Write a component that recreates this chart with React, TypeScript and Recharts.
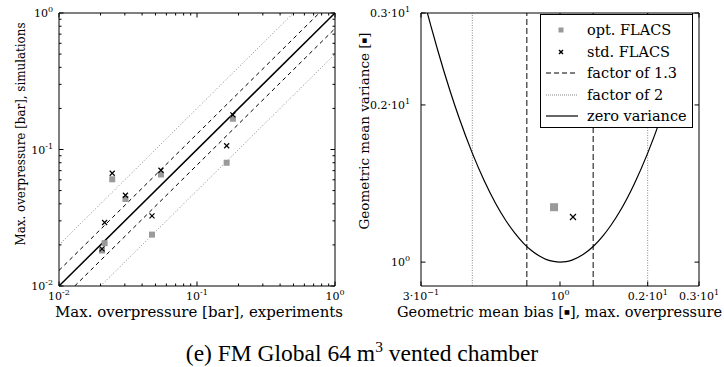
import React from "react";
import { ComposedChart, Scatter, Line, XAxis, YAxis, ReferenceLine, Legend, Label } from "recharts";

// left panel: max overpressure, experiments vs simulations [bar]
const EXPERIMENTS = [0.0243, 0.0303, 0.0548, 0.182, 0.164, 0.0472, 0.0214, 0.0205];
const OPT_FLACS = [0.0605, 0.0434, 0.0656, 0.168, 0.08, 0.0238, 0.0206, 0.0182];
const STD_FLACS = [0.067, 0.0462, 0.0705, 0.1795, 0.1065, 0.0326, 0.0292, 0.0187];

// right panel: geometric mean bias / variance
const MEAN_BIAS = [0.954, 1.108];
const MEAN_VARIANCE = [1.274, 1.22];

// zero variance parabola
const ZERO_VAR_MG = [0.35, 0.36, 0.38, 0.4, 0.42, 0.45, 0.5, 0.55, 0.6, 0.65, 0.7, 0.75, 0.8, 0.85, 0.9, 0.95, 1, 1.05, 1.1, 1.2, 1.3, 1.4, 1.5, 1.6, 1.8, 2, 2.2, 2.4, 2.6, 2.8, 2.857];
const ZERO_VAR_VG = [3.01, 2.84, 2.551, 2.315, 2.122, 1.892, 1.617, 1.43, 1.298, 1.204, 1.136, 1.086, 1.051, 1.027, 1.011, 1.003, 1, 1.002, 1.009, 1.034, 1.071, 1.12, 1.179, 1.247, 1.413, 1.617, 1.862, 2.152, 2.492, 2.887, 3.0];

const FACTOR_NARROW = 1.3;
const FACTOR_WIDE = 2;

const LEFT_TICKS = [0.01, 0.02, 0.03, 0.04, 0.05, 0.06, 0.07, 0.08, 0.09, 0.1, 0.2, 0.3, 0.4, 0.5, 0.6, 0.7, 0.8, 0.9, 1];
const LEFT_LABELS = [
  { v: 0.01, base: "10", sup: "-2" },
  { v: 0.1, base: "10", sup: "-1" },
  { v: 1, base: "10", sup: "0" },
];
const BIAS_TICKS = [1 / 3, 1, 2, 3];
const BIAS_LABELS = [
  { v: 1 / 3, base: "3\u00b710", sup: "\u22121" },
  { v: 1, base: "10", sup: "0" },
  { v: 2, base: "0.2\u00b710", sup: "1" },
  { v: 3, base: "0.3\u00b710", sup: "1" },
];
const VAR_TICKS = [1, 2, 3];
const VAR_LABELS = [
  { v: 1, base: "10", sup: "0" },
  { v: 2, base: "0.2\u00b710", sup: "1" },
  { v: 3, base: "0.3\u00b710", sup: "1" },
];

const LEGEND_ITEMS = [
  { label: "opt. FLACS", kind: "square" },
  { label: "std. FLACS", kind: "cross" },
  { label: "factor of 1.3", kind: "dashed" },
  { label: "factor of 2", kind: "dotted" },
  { label: "zero variance", kind: "solid" },
];

const FONT = "'DejaVu Serif', serif";
const GREY = "#9a9a9a";

const H = 330;
const MARGIN_L = { top: 13, right: 15, bottom: 14, left: 9 };
const MARGIN_R = { top: 13, right: 25, bottom: 14, left: 21 };
const BOX_L = { left: 59, right: 335, top: 13, bottom: 286 };
const BOX_R = { left: 71, right: 349, top: 13, bottom: 286 };

const leftOpt = EXPERIMENTS.map((x, i) => ({ x, y: OPT_FLACS[i] }));
const leftStd = EXPERIMENTS.map((x, i) => ({ x, y: STD_FLACS[i] }));
const rightOpt = [{ x: MEAN_BIAS[0], y: MEAN_VARIANCE[0] }];
const rightStd = [{ x: MEAN_BIAS[1], y: MEAN_VARIANCE[1] }];
const zeroVar = ZERO_VAR_MG.map((x, i) => ({ x, y: ZERO_VAR_VG[i] }));

const findLabel = (labels: any[], v: number) => labels.find((l) => Math.abs(l.v - v) < 1e-6);

const makeXTick = (labels: any[], box: any) => (props: any) => {
  const { x, payload } = props;
  const lab = findLabel(labels, payload.value);
  const len = lab ? 4.5 : 2.5;
  return (
    <g>
      <line x1={x} x2={x} y1={box.bottom} y2={box.bottom - len} stroke="#000" />
      <line x1={x} x2={x} y1={box.top} y2={box.top + len} stroke="#000" />
      {lab && (
        <text x={x} y={box.bottom + 14} textAnchor="middle" fontSize={11} fontFamily={FONT} fill="#000">
          <tspan>{lab.base}</tspan>
          <tspan dy={-5} fontSize={8}>{lab.sup}</tspan>
        </text>
      )}
    </g>
  );
};

const makeYTick = (labels: any[], box: any, gap: number) => (props: any) => {
  const { y, payload } = props;
  const lab = findLabel(labels, payload.value);
  const len = lab ? 4.5 : 2.5;
  return (
    <g>
      <line x1={box.left} x2={box.left + len} y1={y} y2={y} stroke="#000" />
      <line x1={box.right} x2={box.right - len} y1={y} y2={y} stroke="#000" />
      {lab && (
        <text x={box.left - gap} y={y + 4} textAnchor="end" fontSize={11} fontFamily={FONT} fill="#000">
          <tspan>{lab.base}</tspan>
          <tspan dy={-5} fontSize={8}>{lab.sup}</tspan>
        </text>
      )}
    </g>
  );
};

const Square = (size: number) => (props: any) => (
  <rect x={props.cx - size / 2} y={props.cy - size / 2} width={size} height={size} fill={GREY} />
);
const Cross = (size: number) => (props: any) => {
  const { cx, cy } = props;
  const h = size / 2;
  return (
    <g stroke="#000" strokeWidth={1.2}>
      <line x1={cx - h} y1={cy - h} x2={cx + h} y2={cy + h} />
      <line x1={cx - h} y1={cy + h} x2={cx + h} y2={cy - h} />
    </g>
  );
};

const xLabel = (text: string, tail: string, cx: number, len: number) => () => (
  <text x={cx} y={317} textAnchor="middle" fontSize={14} fontFamily={FONT} fill="#000"
    textLength={len} lengthAdjust="spacingAndGlyphs">
    {text}
    {tail && <tspan fontSize={6} dy={-3}>{"\u25a0"}</tspan>}
    {tail && <tspan dy={3}>{tail}</tspan>}
  </text>
);
const yLabel = (text: string, tail: string, bx: number, cy: number, len: number) => () => (
  <text x={bx} y={cy} transform={`rotate(-90 ${bx} ${cy})`} textAnchor="middle" fontSize={12.5}
    fontFamily={FONT} fill="#000" textLength={len} lengthAdjust="spacingAndGlyphs">
    {text}
    {tail && <tspan fontSize={5.5} dy={-3}>{"\u25a0"}</tspan>}
    {tail && <tspan dy={3}>{tail}</tspan>}
  </text>
);

function LegendBox() {
  return (
    <div style={{ width: 151, height: 112, border: "1px solid #000", background: "#fff", position: "relative", fontFamily: FONT, fontSize: 14.5 }}>
      {LEGEND_ITEMS.map((it, i) => {
        const cy = 15 + i * 21.5;
        return (
          <div key={it.label} style={{ position: "absolute", left: 0, top: cy - 10, height: 20, width: 151 }}>
            <svg width={40} height={20} style={{ position: "absolute", left: 0, top: 0 }}>
              {it.kind === "square" && <rect x={17.5} y={7.5} width={5} height={5} fill={GREY} />}
              {it.kind === "cross" && (
                <g stroke="#000" strokeWidth={1.5}>
                  <line x1={18} y1={8} x2={22} y2={12} />
                  <line x1={18} y1={12} x2={22} y2={8} />
                </g>
              )}
              {it.kind === "dashed" && <line x1={5} x2={37} y1={10} y2={10} stroke="#000" strokeDasharray="5 3" />}
              {it.kind === "dotted" && <line x1={5} x2={37} y1={10} y2={10} stroke="#888" strokeDasharray="1 1" />}
              {it.kind === "solid" && <line x1={5} x2={37} y1={10} y2={10} stroke="#000" strokeWidth={1.2} />}
            </svg>
            <span style={{ position: "absolute", left: 46, top: 0, lineHeight: "20px", whiteSpace: "nowrap" }}>{it.label}</span>
          </div>
        );
      })}
    </div>
  );
}

export default function App() {
  const seg = (x1: number, y1: number, x2: number, y2: number) => [{ x: x1, y: y1 }, { x: x2, y: y2 }];
  return (
    <div style={{ position: "absolute", left: 0, top: 0, width: 724, height: 367, background: "#fff", fontFamily: FONT }}>
      <div style={{ position: "absolute", left: 0, top: 0 }}>
        <ComposedChart width={350} height={H} margin={MARGIN_L}>
          <XAxis dataKey="x" type="number" scale="log" domain={[0.01, 1]} allowDataOverflow ticks={LEFT_TICKS}
            interval={0} height={30} tickSize={0} tickMargin={0} axisLine={false}
            tick={makeXTick(LEFT_LABELS, BOX_L)}>
            <Label content={xLabel("Max. overpressure [bar], experiments", "", 199, 288)} />
          </XAxis>
          <YAxis dataKey="y" type="number" scale="log" domain={[0.01, 1]} allowDataOverflow ticks={LEFT_TICKS}
            interval={0} width={50} tickSize={0} tickMargin={0} axisLine={false}
            tick={makeYTick(LEFT_LABELS, BOX_L, 6)}>
            <Label content={yLabel("Max. overpressure [bar], simulations", "", 25, 134, 223)} />
          </YAxis>
          <ReferenceLine segment={seg(0.01, 0.01 * FACTOR_WIDE, 1 / FACTOR_WIDE, 1)} stroke="#888" strokeDasharray="1 2" ifOverflow="hidden" />
          <ReferenceLine segment={seg(0.01 * FACTOR_WIDE, 0.01, 1, 1 / FACTOR_WIDE)} stroke="#888" strokeDasharray="1 2" ifOverflow="hidden" />
          <ReferenceLine segment={seg(0.01, 0.01 * FACTOR_NARROW, 1 / FACTOR_NARROW, 1)} stroke="#000" strokeDasharray="4 3.5" ifOverflow="hidden" />
          <ReferenceLine segment={seg(0.01 * FACTOR_NARROW, 0.01, 1, 1 / FACTOR_NARROW)} stroke="#000" strokeDasharray="4 3.5" ifOverflow="hidden" />
          <ReferenceLine segment={seg(0.01, 0.01, 1, 1)} stroke="#000" strokeWidth={1.5} ifOverflow="hidden" />
          <Scatter data={leftOpt} shape={Square(6)} isAnimationActive={false} />
          <Scatter data={leftStd} shape={Cross(5)} isAnimationActive={false} />
          <ReferenceLine x={0.01} stroke="#000" />
          <ReferenceLine x={1} stroke="#000" />
          <ReferenceLine y={0.01} stroke="#000" />
          <ReferenceLine y={1} stroke="#000" />
        </ComposedChart>
      </div>
      <div style={{ position: "absolute", left: 350, top: 0 }}>
        <ComposedChart width={374} height={H} margin={MARGIN_R}>
          <XAxis dataKey="x" type="number" scale="log" domain={[1 / 3, 3]} allowDataOverflow ticks={BIAS_TICKS}
            interval={0} height={30} tickSize={0} tickMargin={0} axisLine={false}
            tick={makeXTick(BIAS_LABELS, BOX_R)}>
            <Label content={xLabel("Geometric mean bias [", "], max. overpressure", 209.5, 325)} />
          </XAxis>
          <YAxis dataKey="y" type="number" scale="log" domain={[0.9, 3]} allowDataOverflow ticks={VAR_TICKS}
            interval={0} width={50} tickSize={0} tickMargin={0} axisLine={false}
            tick={makeYTick(VAR_LABELS, BOX_R, 11)}>
            <Label content={yLabel("Geometric mean variance [", "]", 19, 131, 197)} />
          </YAxis>
          <ReferenceLine x={1 / FACTOR_WIDE} stroke="#888" strokeDasharray="1 1.5" />
          <ReferenceLine x={FACTOR_WIDE} stroke="#888" strokeDasharray="1 1.5" />
          <ReferenceLine x={1 / FACTOR_NARROW} stroke="#333" strokeWidth={1.2} strokeDasharray="6 3" />
          <ReferenceLine x={FACTOR_NARROW} stroke="#333" strokeWidth={1.2} strokeDasharray="6 3" />
          <Line data={zeroVar} dataKey="y" type="monotone" stroke="#000" strokeWidth={1.2} dot={false} isAnimationActive={false} />
          <Scatter data={rightOpt} shape={Square(8)} isAnimationActive={false} />
          <Scatter data={rightStd} shape={Cross(6)} isAnimationActive={false} />
          <ReferenceLine x={1 / 3} stroke="#000" />
          <ReferenceLine x={3} stroke="#000" />
          <ReferenceLine y={0.9} stroke="#000" />
          <ReferenceLine y={3} stroke="#000" />
          <Legend layout="horizontal" verticalAlign="middle" align="center" content={() => <LegendBox />}
            wrapperStyle={{ left: 190, top: 14, width: 153, height: 114 }} />
        </ComposedChart>
      </div>
      <svg width={724} height={367} style={{ position: "absolute", left: 0, top: 0, pointerEvents: "none" }}>
        <text x={362} y={361} textAnchor="middle" fontFamily="'Liberation Serif', serif" fontSize={23.5} fill="#000">
          <tspan>(e) FM Global 64 m</tspan>
          <tspan dy={-9} fontSize={15.5}>3</tspan>
          <tspan dy={9}> vented chamber</tspan>
        </text>
      </svg>
    </div>
  );
}
